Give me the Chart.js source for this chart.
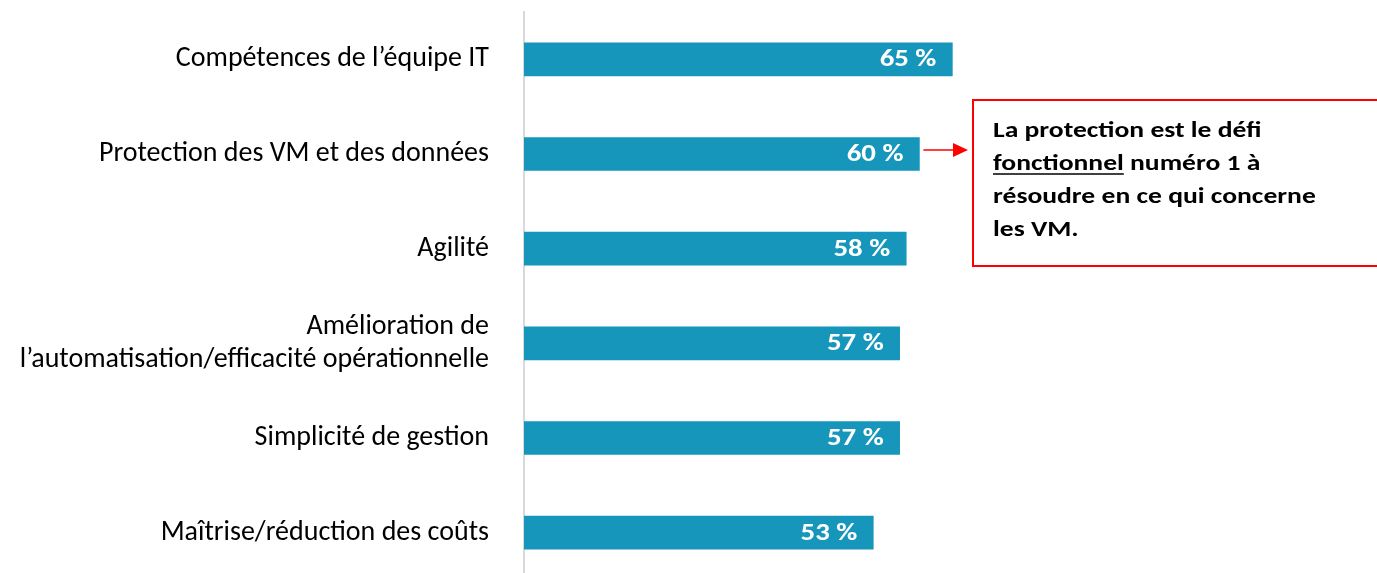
<!DOCTYPE html>
<html><head><meta charset="utf-8">
<script src="https://cdn.jsdelivr.net/npm/chart.js@4.4.1/dist/chart.umd.min.js"></script>
<style>
html,body{margin:0;padding:0;background:#fff;overflow:hidden;}
#wrap{position:relative;width:1377px;height:580px;}
</style></head>
<body><div id="wrap"><canvas id="c" width="1377" height="580"></canvas></div>
<script>
const categories = [
  "Compétences de l’équipe IT",
  "Protection des VM et des données",
  "Agilité",
  ["Amélioration de", "l’automatisation/efficacité opérationnelle"],
  "Simplicité de gestion",
  "Maîtrise/réduction des coûts"
];
const values = [65, 60, 58, 57, 57, 53];
const valueSuffix = " %";
const calloutLines = [
  [["La protection est le défi", false]],
  [["fonctionnel", true], [" numéro 1 à", false]],
  [["résoudre en ce qui concerne", false]],
  [["les VM.", false]]
];
const highlightIndex = 1;

const FONT = "Carlito, Lato, 'Open Sans', sans-serif";
const STRETCH = 1.2;

function stretchedText(ctx, txt, x, y, align) {
  const w = ctx.measureText(txt).width * STRETCH;
  const x0 = align === 'right' ? x - w : x;
  ctx.save();
  ctx.translate(x0, y);
  ctx.scale(STRETCH, 1);
  ctx.textAlign = 'left';
  ctx.fillText(txt, 0, 0);
  ctx.restore();
  return w;
}

const labelPlugin = {
  id: 'valLabels',
  afterDatasetsDraw(chart) {
    const ctx = chart.ctx;
    const meta = chart.getDatasetMeta(0);
    ctx.save();
    ctx.fillStyle = '#ffffff';
    ctx.font = "bold 24px " + FONT;
    ctx.textBaseline = 'middle';
    meta.data.forEach((bar, i) => {
      stretchedText(ctx, values[i] + valueSuffix, bar.x - 16, bar.y + 1, 'right');
    });
    ctx.restore();
  }
};

const calloutPlugin = {
  id: 'callout',
  afterDraw(chart) {
    const ctx = chart.ctx;
    const bar = chart.getDatasetMeta(0).data[highlightIndex];
    const boxL = 973, boxT = 100, boxB = 266;
    ctx.save();
    ctx.strokeStyle = '#ff0000';
    ctx.lineWidth = 2;
    ctx.strokeRect(boxL, boxT, 1377 - boxL + 5, boxB - boxT);
    const ay = bar.y - 4;
    const ax0 = bar.x + 4;
    const tip = boxL - 5;
    ctx.lineWidth = 1.5;
    ctx.beginPath();
    ctx.moveTo(ax0, ay);
    ctx.lineTo(tip - 12, ay);
    ctx.stroke();
    ctx.fillStyle = '#ff0000';
    ctx.beginPath();
    ctx.moveTo(tip, ay);
    ctx.lineTo(tip - 15, ay - 7);
    ctx.lineTo(tip - 15, ay + 7);
    ctx.closePath();
    ctx.fill();
    ctx.fillStyle = '#000000';
    ctx.strokeStyle = '#000000';
    ctx.font = "bold 23px " + FONT;
    ctx.textBaseline = 'alphabetic';
    let y = 137;
    calloutLines.forEach(line => {
      let x = 993;
      line.forEach(([txt, ul]) => {
        const w = stretchedText(ctx, txt, x, y, 'left');
        if (ul) {
          ctx.lineWidth = 1.5;
          ctx.beginPath();
          ctx.moveTo(x, y + 4);
          ctx.lineTo(x + w, y + 4);
          ctx.stroke();
        }
        x += w;
      });
      y += 33;
    });
    ctx.restore();
  }
};

new Chart(document.getElementById('c'), {
  type: 'bar',
  data: {
    labels: categories,
    datasets: [{
      data: values,
      backgroundColor: '#1596ba',
      barThickness: 33,
      borderWidth: 0
    }]
  },
  options: {
    indexAxis: 'y',
    responsive: false,
    animation: false,
    layout: { padding: { top: 12, right: 194, bottom: 0, left: 0 } },
    plugins: { legend: { display: false }, tooltip: { enabled: false } },
    scales: {
      x: { display: false, min: 0, max: 100 },
      y: {
        grid: { display: false, drawTicks: false },
        border: { display: true, color: '#d9d9d9', width: 2 },
        ticks: {
          color: '#000000',
          font: { family: FONT, size: 28 },
          padding: 35,
          lineHeight: 1.25
        },
        afterFit(scale) {
          scale.width = 524;
          scale.paddingTop = 0;
          scale.paddingBottom = 0;
        }
      }
    }
  },
  plugins: [labelPlugin, calloutPlugin]
});
</script></body></html>
